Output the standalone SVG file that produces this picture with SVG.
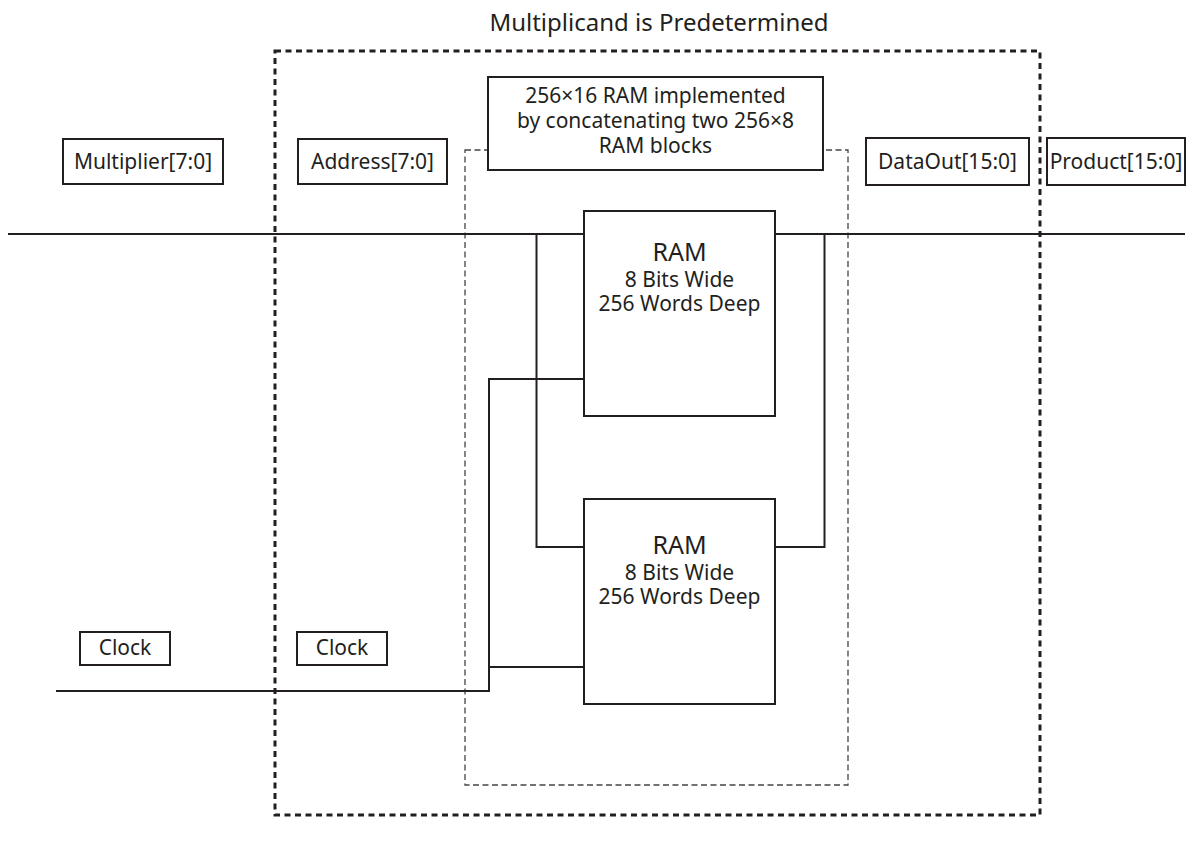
<svg xmlns="http://www.w3.org/2000/svg" width="1187" height="844" viewBox="0 0 1187 844">
<style>
text{font-family:"Noto Sans","Open Sans",sans-serif;fill:#231f20;text-anchor:middle}
.lbl{font-size:21px}
.t{font-size:21px}
.ttl{font-size:24px}
.big{font-size:25px}
.box{fill:#fff;stroke:#231f20;stroke-width:2}
.w{fill:none;stroke:#231f20;stroke-width:2}
.outer{fill:none;stroke:#231f20;stroke-width:3;stroke-dasharray:6 4.5}
.inner{fill:none;stroke:#444;stroke-width:1.3;stroke-dasharray:6 3.5}
</style>
<rect width="1187" height="844" fill="#fff"/>
<text x="659" y="31" class="ttl">Multiplicand is Predetermined</text>
<rect id="outer" class="outer" x="275" y="51" width="765" height="764"/>
<rect id="inner" class="inner" x="465" y="150" width="383" height="635"/>
<g id="connectors">
<path class="w" d="M8 234H584M775 234H1185"/>
<path class="w" d="M536.5 234V547H584M824.5 234V547H775"/>
<path class="w" d="M56 691H489V379H584M489 667H584"/>
</g>
<g id="desc"><rect class="box" x="488" y="77" width="335" height="93"/>
<text x="655.5" y="103" class="t">256×16 RAM implemented</text>
<text x="655.5" y="128" class="t">by concatenating two 256×8</text>
<text x="655.5" y="153" class="t">RAM blocks</text></g>
<g id="ram1"><rect class="box" x="584" y="211" width="191" height="205"/>
<text x="679.5" y="261" class="big">RAM</text>
<text x="679.5" y="287" class="t">8 Bits Wide</text>
<text x="679.5" y="311" class="t">256 Words Deep</text></g>
<g id="ram2"><rect class="box" x="584" y="499" width="191" height="205"/>
<text x="679.5" y="554" class="big">RAM</text>
<text x="679.5" y="580" class="t">8 Bits Wide</text>
<text x="679.5" y="604" class="t">256 Words Deep</text></g>
<g id="multiplier"><rect class="box" x="63" y="139" width="160" height="45"/><text x="143" y="169" class="lbl">Multiplier[7:0]</text></g>
<g id="address"><rect class="box" x="298" y="139" width="149" height="45"/><text x="372.5" y="169" class="lbl">Address[7:0]</text></g>
<g id="dataout"><rect class="box" x="866" y="138" width="163" height="47"/><text x="947.5" y="169" class="lbl">DataOut[15:0]</text></g>
<g id="product"><rect class="box" x="1047" y="138" width="138" height="47"/><text x="1116" y="169" class="lbl">Product[15:0]</text></g>
<g id="clock1"><rect class="box" x="80" y="632" width="90" height="33"/><text x="125" y="655" class="lbl">Clock</text></g>
<g id="clock2"><rect class="box" x="297" y="632" width="90" height="33"/><text x="342" y="655" class="lbl">Clock</text></g>
</svg>
